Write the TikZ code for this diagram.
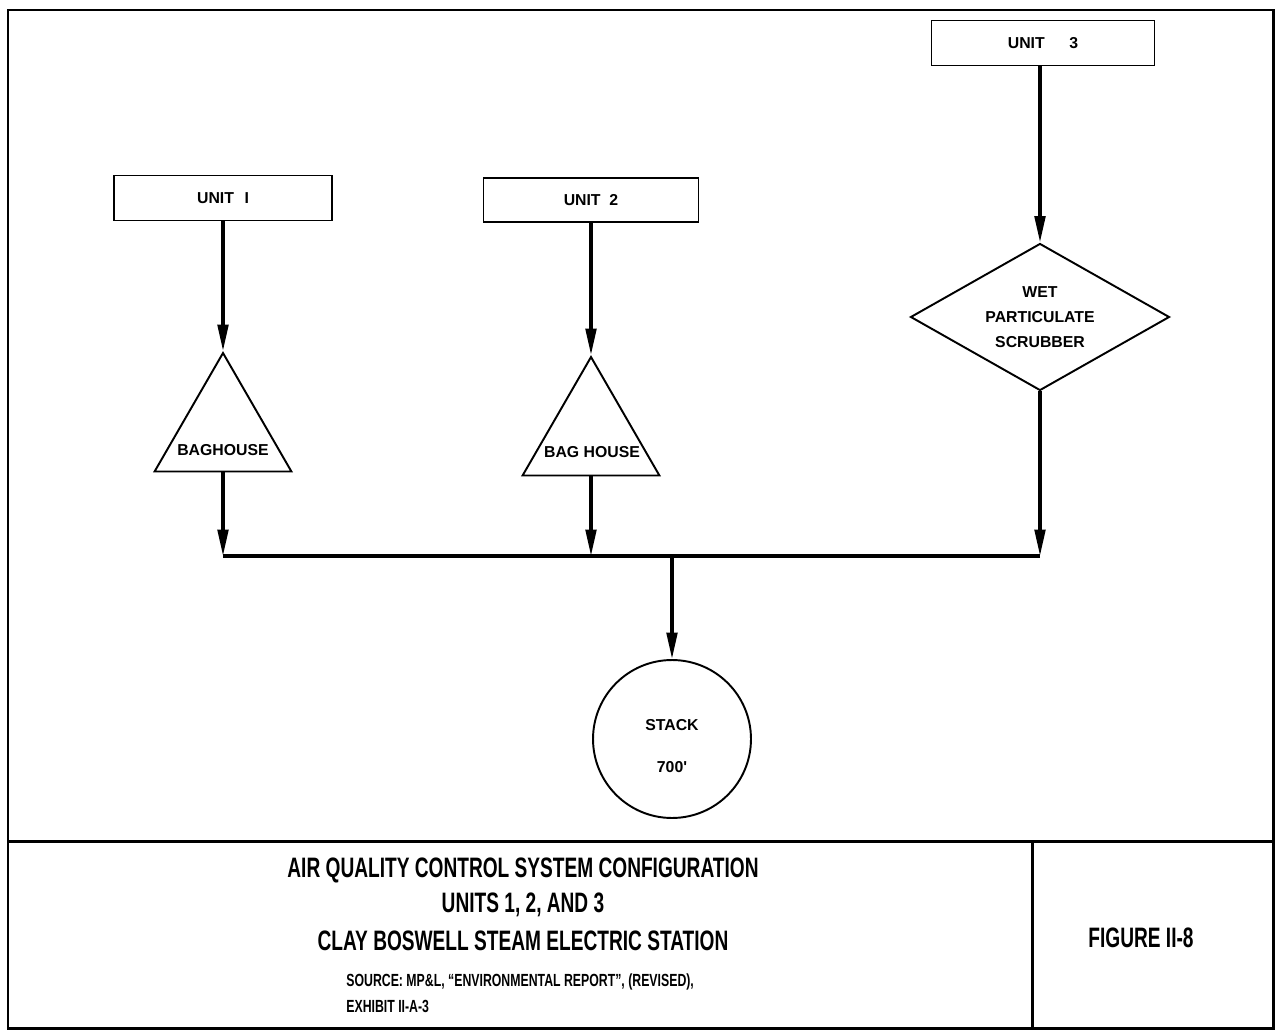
\documentclass[tikz,border=0pt]{standalone}
\usepackage{fontspec}
\setmainfont{Liberation Sans}
\newfontfamily\narrowfont[FakeStretch=0.68,Ligatures=TeX]{Liberation Sans}
\newfontfamily\srcfont[FakeStretch=0.70,Ligatures=TeX]{Liberation Sans}
\usepackage{tikz}
\usetikzlibrary{arrows.meta,positioning,shapes.geometric,calc}

\begin{document}
\begin{tikzpicture}[
    x=0.02cm, y=-0.02cm,
    unitbox/.style={
        rectangle, draw, line width=0.9pt,
        font=\fontsize{9}{11}\selectfont\bfseries,
        minimum width=4.36cm, minimum height=0.9cm
    },
    baghouse/.style={
        regular polygon, regular polygon sides=3, draw, line width=1.1pt,
        minimum size=3.16cm, inner sep=0pt
    },
    scrub/.style={
        diamond, draw, line width=1.1pt, inner sep=0pt, aspect=1.76,
        minimum width=5.18cm, minimum height=2.94cm,
        align=center, font=\fontsize{9}{14.2}\selectfont\bfseries
    },
    stackcirc/.style={circle, draw, line width=1.1pt, minimum size=3.16cm},
    tag/.style={font=\fontsize{9}{11}\selectfont\bfseries, inner sep=0pt},
    headline/.style={font=\narrowfont\fontsize{16}{19}\selectfont\bfseries, inner sep=0pt},
    srcline/.style={font=\srcfont\fontsize{10}{11}\selectfont\bfseries, inner sep=0pt, anchor=west},
    frame/.style={line width=1.7pt},
    pipe/.style={line width=2.1pt},
    flow/.style={-{Triangle[length=15pt,width=6pt]}, line width=1.9pt}
]

\useasboundingbox (0,0) rectangle (1275,1034);

% sheet border and title block
\draw[frame] (8,10) rectangle (1273,1028);
\draw[frame] (8,841) -- (1273,841);
\draw[frame] (1032,841) -- (1032,1028);

% sources
\node[unitbox] (unitOne)   at (223,198) {UNIT\hspace{6pt}I};
\node[unitbox, minimum width=4.3cm, minimum height=0.88cm] (unitTwo) at (591,200) {UNIT\hspace{5pt}2};
\node[unitbox, minimum width=4.46cm] (unitThree) at (1043,43) {UNIT\hspace{14pt}3};

% control devices
\node[baghouse] (bagOne) at (223,432) {};
\node[tag] (bagOneText) at (223,450) {BAGHOUSE};
\node[baghouse] (bagTwo) at (591,436) {};
\node[tag] (bagTwoText) at (592,452) {BAG HOUSE};
\node[scrub] (scrubber) at (1040,317) {WET\\PARTICULATE\\SCRUBBER};

\node[stackcirc] (stack) at (672,739) {};
\node[tag, align=center, font=\fontsize{9}{23.8}\selectfont\bfseries] (stackText) at (672,746) {STACK\\700\textquotesingle};

\coordinate (bus) at (0,556);

\draw[flow] (unitThree.south -| scrubber.north) -- (scrubber.north);
\draw[flow] (unitOne) -- (bagOne.corner 1);
\draw[flow] (unitTwo) -- (bagTwo.corner 1);

\draw[flow] (bagOne.side 2) -- (bagOne.side 2 |- bus);
\draw[flow] (bagTwo.side 2) -- (bagTwo.side 2 |- bus);
\draw[flow] (scrubber.south) -- (scrubber.south |- bus);
\draw[pipe] (bagOne.side 2 |- bus) -- (scrubber.south |- bus);
\draw[flow] (stack.north |- bus) -- (stack.north);

% title block text
\node[headline] (titleA) at (523,870) {AIR QUALITY CONTROL SYSTEM CONFIGURATION};
\node[headline] (titleB) at (523,905) {UNITS 1, 2, AND 3};
\node[headline] (titleC) at (523,941) {CLAY BOSWELL STEAM ELECTRIC STATION};
\node[srcline] (srcA) at (346,982) {SOURCE: MP\&L, ``ENVIRONMENTAL REPORT'', (REVISED),};
\node[srcline] (srcB) at (346,1006) {EXHIBIT II-A-3};
\node[headline] (figno) at (1141,938) {FIGURE II-8};

\end{tikzpicture}
\end{document}
